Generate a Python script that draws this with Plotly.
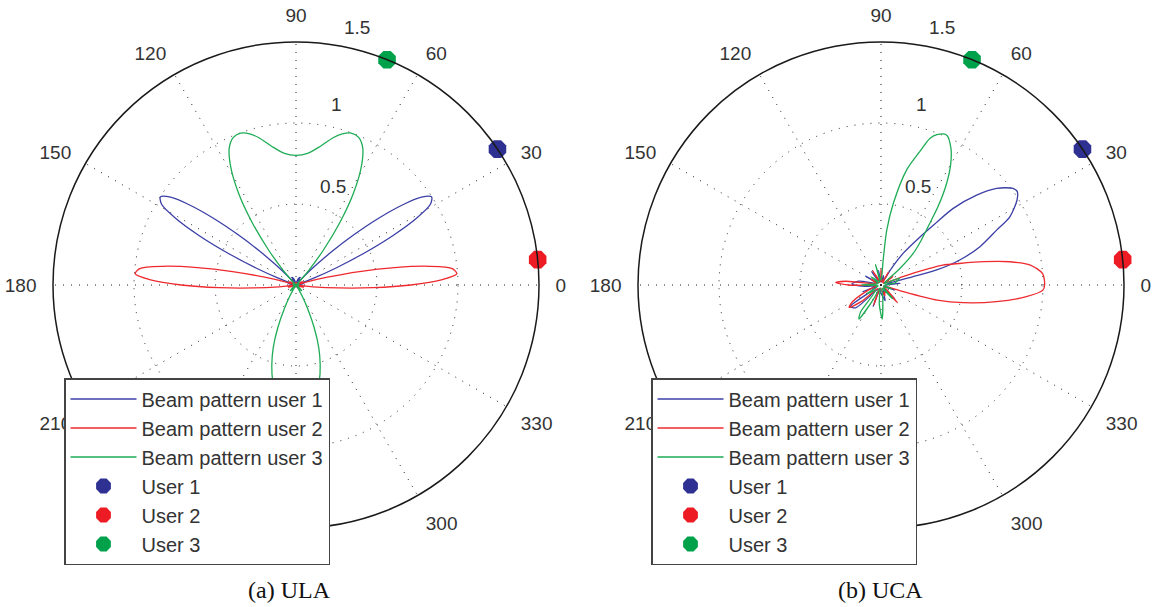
import plotly.graph_objects as go

# ---------------- data ----------------
# ULA beam patterns (normalised power), angles in degrees
ula_theta_1 = [-90, -80, -70, -60, -50, -40, -30, -20, -10, 0, 10, 14, 17, 19, 21, 23, 25, 27, 29, 31,
               33, 35, 37, 39, 41, 43, 45, 47, 49, 52, 57, 63, 70, 80, 90, 100, 110, 117, 123, 128,
               131, 133, 135, 137, 139, 141, 143, 145, 147, 149, 151, 153, 155, 157, 159, 161, 163,
               166, 170, 180, 190, 200, 210, 220, 230, 240, 250, 260, 270]
ula_r_1 = [0.01, 0.005, 0.003, 0.02, 0.012, 0.012, 0.005, 0.016, 0.004, 0.008, 0.05, 0.025, 0.0, 0.03,
           0.113, 0.265, 0.46, 0.67, 0.85, 0.968, 0.998, 0.945, 0.818, 0.65, 0.47, 0.305, 0.17, 0.08,
           0.025, 0.0, 0.026, 0.052, 0.041, 0.015, 0.01, 0.015, 0.041, 0.052, 0.026, 0.0, 0.025, 0.08,
           0.17, 0.305, 0.47, 0.65, 0.818, 0.945, 0.998, 0.968, 0.85, 0.67, 0.46, 0.265, 0.113, 0.03,
           0.0, 0.025, 0.05, 0.008, 0.004, 0.016, 0.005, 0.012, 0.012, 0.02, 0.003, 0.005, 0.01]

ula_theta_2 = [-90, -80, -70, -60, -50, -40, -30, -25, -20, -15, -12, -10, -8, -6, -4, -2, 0, 2, 4, 6,
               8, 10, 12, 14, 16, 18, 20, 25, 30, 35, 40, 50, 60, 70, 80, 90, 100, 110, 120, 130,
               140, 145, 150, 155, 160, 162, 164, 166, 168, 170, 172, 174, 176, 178, 180, 182, 184,
               186, 188, 190, 192, 195, 200, 205, 210, 220, 230, 240, 250, 260, 270]
ula_r_2 = [0.012, 0.008, 0.0, 0.005, 0.012, 0.005, 0.012, 0.0, 0.03, 0.048, 0.02, 0.0, 0.019, 0.105,
           0.262, 0.477, 0.709, 0.898, 0.995, 0.97, 0.83, 0.62, 0.40, 0.20, 0.07, 0.01, 0.002, 0.048,
           0.03, 0.0, 0.011, 0.012, 0.002, 0.015, 0.013, 0.012, 0.013, 0.015, 0.002, 0.012, 0.011,
           0.0, 0.03, 0.048, 0.002, 0.01, 0.07, 0.20, 0.40, 0.62, 0.83, 0.97, 0.995, 0.898, 0.709,
           0.477, 0.262, 0.105, 0.019, 0.0, 0.02, 0.048, 0.03, 0.0, 0.012, 0.005, 0.012, 0.005, 0.0,
           0.008, 0.012]

ula_theta_3 = [-90, -85, -80, -76, -73, -70, -67, -64, -61, -58, -55, -50, -45, -40, -30, -20, -10, 0,
               10, 20, 30, 40, 43, 46, 49, 52, 55, 58, 61, 64, 67, 70, 73, 76, 80, 85, 90, 95, 100,
               104, 107, 110, 113, 116, 119, 122, 125, 128, 131, 134, 137, 140, 150, 160, 170, 180,
               190, 200, 210, 220, 225, 230, 235, 238, 241, 244, 247, 250, 253, 256, 260, 265, 270]
ula_r_3 = [0.79, 0.77, 0.70, 0.60, 0.51, 0.41, 0.29, 0.17, 0.08, 0.02, 0.0, 0.026, 0.05, 0.03, 0.012,
           0.005, 0.016, 0.01, 0.0, 0.018, 0.02, 0.02, 0.0, 0.026, 0.12, 0.28, 0.475, 0.67, 0.83,
           0.94, 0.99, 0.998, 0.975, 0.935, 0.87, 0.815, 0.80, 0.815, 0.87, 0.935, 0.975, 0.998,
           0.99, 0.94, 0.83, 0.67, 0.475, 0.28, 0.12, 0.026, 0.0, 0.02, 0.02, 0.018, 0.0, 0.01,
           0.016, 0.005, 0.012, 0.03, 0.05, 0.026, 0.0, 0.02, 0.08, 0.17, 0.29, 0.41, 0.51, 0.60,
           0.70, 0.77, 0.79]

# UCA beam patterns
uca_theta_1 = [0, 5, 10, 13, 14.4, 15.1, 17.6, 21.2, 25.4, 27.9, 32, 34.5, 36.2, 39.9, 43.2, 46.7,
               48.5, 51, 55, 58, 62, 75, 85, 100, 110, 125, 135, 150, 160, 170, 178, 185, 192, 200,
               206, 215, 222, 230, 243, 250, 257, 270, 285, 300, 315, 325, 340, 350, 360]
uca_r_1 = [0.03, 0.12, 0.04, 0.05, 0.2, 0.356, 0.51, 0.655, 0.79, 0.9, 0.99, 1.02, 1.01, 0.93, 0.81,
           0.65, 0.51, 0.38, 0.24, 0.12, 0.03, 0.06, 0.02, 0.09, 0.02, 0.1, 0.02, 0.11, 0.03, 0.14,
           0.18, 0.1, 0.03, 0.12, 0.03, 0.23, 0.21, 0.04, 0.03, 0.14, 0.03, 0.05, 0.1, 0.03, 0.12,
           0.02, 0.09, 0.02, 0.03]

uca_theta_2 = [0, 4, 7.6, 10.2, 12.8, 15.4, 17.8, 19, 21, 23, 28, 35, 42, 52, 60, 68, 80, 90, 100,
               110, 120, 130, 150, 165, 171, 174, 177, 180, 183, 190, 200, 210, 215, 220, 228, 238,
               250, 260, 275, 290, 305, 313, 320, 335, 341, 343.5, 345, 347.9, 351.8, 355.4, 358.2,
               360]
uca_r_2 = [1.01, 1.0, 0.93, 0.81, 0.65, 0.5, 0.4, 0.3, 0.15, 0.04, 0.02, 0.09, 0.02, 0.02, 0.09,
           0.02, 0.03, 0.1, 0.02, 0.03, 0.1, 0.02, 0.07, 0.03, 0.05, 0.22, 0.28, 0.2, 0.05, 0.03,
           0.07, 0.2, 0.24, 0.16, 0.03, 0.03, 0.13, 0.02, 0.03, 0.07, 0.04, 0.15, 0.05, 0.02, 0.02,
           0.12, 0.36, 0.52, 0.72, 0.9, 1.0, 1.01]

uca_theta_3 = [0, 10, 20, 28, 38, 41, 44.5, 48, 51, 54, 57, 60, 63, 66.4, 69.6, 71.5, 73.5, 77.4,
               81.4, 84, 85, 86.5, 95, 105, 115, 128, 140, 155, 168, 180, 192, 200, 212, 225, 233,
               237, 242, 250, 258, 265, 272, 278, 290, 300, 310, 325, 340, 350, 360]
uca_r_3 = [0.03, 0.09, 0.12, 0.02, 0.05, 0.15, 0.28, 0.37, 0.46, 0.6, 0.74, 0.86, 0.95, 1.01, 0.99,
           0.955, 0.87, 0.73, 0.51, 0.34, 0.16, 0.04, 0.03, 0.13, 0.02, 0.03, 0.08, 0.02, 0.03, 0.12,
           0.02, 0.02, 0.1, 0.05, 0.21, 0.25, 0.1, 0.02, 0.03, 0.12, 0.21, 0.08, 0.02, 0.03, 0.11,
           0.02, 0.07, 0.02, 0.03]

# User positions (same in both panels)
user_theta = [34, 6, 68]
user_r = [1.5, 1.5, 1.5]

angle_ticks = [0, 30, 60, 90, 120, 150, 180, 210, 240, 270, 300, 330]
radial_ticks = [0.5, 1, 1.5]

beam_names = ["Beam pattern user 1", "Beam pattern user 2", "Beam pattern user 3"]
user_names = ["User 1", "User 2", "User 3"]
line_colors = ["#3b3fa6", "#ee2a2f", "#1eac55"]
marker_colors = ["#2e3192", "#ed1c24", "#00a14b"]

captions = ["(a) ULA", "(b) UCA"]

# ---------------- figure ----------------
W, H = 1157, 607
TXT = dict(family="Liberation Sans", size=19, color="#333333")

fig = go.Figure()
panels = [
    ("polar", "legend", [(ula_theta_1, ula_r_1), (ula_theta_2, ula_r_2), (ula_theta_3, ula_r_3)]),
    ("polar2", "legend2", [(uca_theta_1, uca_r_1), (uca_theta_2, uca_r_2), (uca_theta_3, uca_r_3)]),
]
for sp, lg, curves in panels:
    for i, (th, rr) in enumerate(curves):
        fig.add_trace(go.Scatterpolar(
            theta=th, r=rr, mode="lines", name=beam_names[i], subplot=sp, legend=lg,
            legendgroup=sp + "b" + str(i),
            line=dict(color=line_colors[i], width=1.3, shape="spline", smoothing=0.8),
            hoverinfo="skip"))
    for i in range(3):
        fig.add_trace(go.Scatterpolar(
            theta=[user_theta[i]], r=[user_r[i]], mode="markers", name=user_names[i],
            subplot=sp, legend=lg, legendgroup=sp + "u" + str(i), cliponaxis=False,
            marker=dict(symbol="octagon", size=19, color=marker_colors[i], line=dict(width=0)),
            hoverinfo="skip"))
    # radial tick labels 0.5 and 1 (MATLAB style, beside the 80 deg spoke)
    fig.add_trace(go.Scatterpolar(
        theta=[69, 77.3], r=[0.64, 1.13], mode="text",
        text=["0.5", "1"], subplot=sp, showlegend=False,
        cliponaxis=False, textfont=TXT, hoverinfo="skip"))

grid_dash = "1px,7px"
polar_common = dict(
    bgcolor="white",
    radialaxis=dict(range=[0, 1.5], tickvals=radial_ticks, showticklabels=False, ticks="",
                    showline=False, gridcolor="#222222", griddash=grid_dash, gridwidth=1),
    angularaxis=dict(rotation=0, direction="counterclockwise", tickmode="array",
                     tickvals=angle_ticks, ticktext=[str(a) for a in angle_ticks],
                     showline=True, linecolor="#1a1a1a", linewidth=1.5,
                     ticks="outside", ticklen=12, tickcolor="rgba(0,0,0,0)",
                     gridcolor="#222222", griddash=grid_dash, gridwidth=1,
                     tickfont=TXT),
)

leg_common = dict(xanchor="left", yanchor="top", bgcolor="white",
                  bordercolor="#444444", borderwidth=1.5, itemwidth=66, tracegroupgap=0,
                  font=dict(family="Liberation Sans", size=20, color="#333333"))

ann = []
# outer-ring radial label "1.5" (lies outside the plotting circle)
for cx in (357, 942):
    ann.append(dict(text="1.5", x=cx / W, y=1 - 28 / H, xref="paper", yref="paper",
                    xanchor="center", yanchor="middle", showarrow=False, font=TXT))
for cap, cx in zip(captions, (289, 880)):
    ann.append(dict(text=cap, x=cx / W, y=1 - 590 / H, xref="paper", yref="paper",
                    xanchor="center", yanchor="middle", showarrow=False,
                    font=dict(family="Liberation Serif", size=24, color="#111111")))

fig.update_layout(
    width=W, height=H, margin=dict(l=0, r=0, t=0, b=0),
    paper_bgcolor="white", plot_bgcolor="white",
    polar=dict(domain=dict(x=[53 / W, 539 / W], y=[79 / H, 565 / H]), **polar_common),
    polar2=dict(domain=dict(x=[638 / W, 1124 / W], y=[79 / H, 565 / H]), **polar_common),
    legend=dict(x=64 / W, y=1 - 378 / H, **leg_common),
    legend2=dict(x=651 / W, y=1 - 378 / H, **leg_common),
    annotations=ann,
)

fig.write_html("out.html")
